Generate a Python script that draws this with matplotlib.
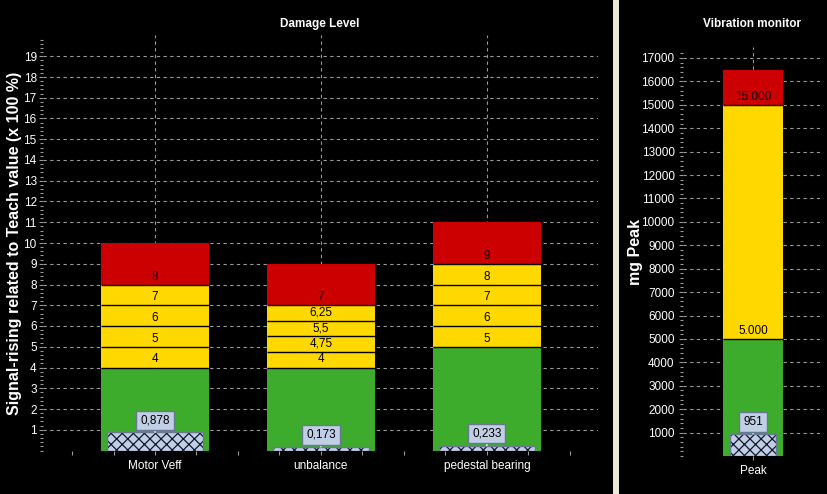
import numpy as np
import matplotlib
matplotlib.use('Agg')
import matplotlib.pyplot as plt
from matplotlib.patches import Rectangle

# data
categories = ['Motor Veff', 'unbalance', 'pedestal bearing']
warn_levels = [[4, 5, 6, 7, 8],
               [4, 4.75, 5.5, 6.25, 7],
               [5, 6, 7, 8, 9]]
bar_tops = [10, 9, 11]
actual = [0.878, 0.173, 0.233]

peak_name = 'Peak'
peak_levels = [5000, 15000]
peak_top = 16500
peak_value = 951

RED = '#CC0000'
YELLOW = '#FFD800'
GREEN = '#3DAB2B'
BOXFACE = '#C0CEE6'
BOXEDGE = '#687890'
GRID = '#9A9A9A'

def fmt_de(v, thousands=False):
    if thousands:
        return '{:,.0f}'.format(v).replace(',', '.')
    s = ('%g' % v)
    return s.replace('.', ',')

def style_axes(ax):
    ax.set_facecolor('black')
    for sp in ax.spines.values():
        sp.set_visible(False)
    ax.tick_params(which='both', colors=GRID, labelcolor='white', labelsize=8.5, length=3, width=0.8)
    ax.tick_params(axis='y', which='both', pad=1.5)
    ax.tick_params(axis='y', which='minor', length=2)
    ax.grid(True, which='major', color=GRID, linestyle=(0, (3, 3)), linewidth=0.8)
    ax.set_axisbelow(True)

def stacked_bar(ax, x, levels, top, width, value, labels, hatch_w, fs=8.5):
    bottoms = [0] + list(levels)
    tops = list(levels) + [top]
    cols = [GREEN] + [YELLOW] * (len(levels) - 1) + [RED]
    for b, t, c in zip(bottoms, tops, cols):
        ax.bar(x, t - b, bottom=b, width=width, color=c, linewidth=0, zorder=2)
    ax.hlines(levels, x - width / 2, x + width / 2, color='black', linewidth=1, zorder=3)
    for lv, lab in zip(levels, labels):
        ax.annotate(lab, (x, lv), xytext=(0, 2), textcoords='offset pixels',
                    ha='center', va='bottom', fontsize=fs, color='black', zorder=4)
    # actual value
    ax.bar(x, value, width=hatch_w, color=BOXFACE, edgecolor='#10182A', hatch='xxx',
           linewidth=0, zorder=4)
    ax.bar(x, value, width=hatch_w, fill=False, edgecolor=BOXEDGE, linewidth=1, zorder=5)

def value_box(ax, x, value, text):
    ax.annotate(text, (x, value), xytext=(0, 12), textcoords='offset pixels',
                ha='center', va='center', fontsize=8.5, color='black', zorder=6,
                bbox=dict(boxstyle='square,pad=0.32', facecolor=BOXFACE, edgecolor=BOXEDGE, linewidth=1),
                arrowprops=dict(arrowstyle='-', color='white', linewidth=1, shrinkA=0, shrinkB=0))

plt.rcParams['font.family'] = ['Liberation Sans', 'DejaVu Sans']
plt.rcParams['hatch.linewidth'] = 0.9
fig = plt.figure(figsize=(8.28, 4.94), dpi=100, facecolor='black')

# ---- left panel
ax = fig.add_axes([43 / 828, 43.5 / 494, 555 / 828, 415 / 494])
style_axes(ax)
xs = np.arange(len(categories))
for i in range(len(categories)):
    labs = [fmt_de(v) for v in warn_levels[i]]
    stacked_bar(ax, xs[i], warn_levels[i], bar_tops[i], 0.65, actual[i], labs, 0.58)
    value_box(ax, xs[i], actual[i], fmt_de(actual[i]))
ax.set_xlim(-0.675, 2.67)
ax.set_ylim(0, 20)
ax.set_yticks(np.arange(1, 20))
ax.set_yticks(np.arange(0, 19.85, 0.2), minor=True)
ax.set_xticks(xs)
ax.set_xticklabels(categories)
ax.set_xticks(np.arange(-0.5, 2.51, 0.25), minor=True)
ax.grid(False, axis='x', which='minor')

# ---- right panel
ax2 = fig.add_axes([683 / 828, 38 / 494, 137 / 828, 408.6 / 494])
style_axes(ax2)
stacked_bar(ax2, 0, peak_levels, peak_top, 0.65, peak_value,
            [fmt_de(v, True) for v in peak_levels], 0.49)
value_box(ax2, 0, peak_value, str(peak_value))
ax2.set_xlim(-0.758, 0.726)
ax2.set_ylim(0, 17450)
ax2.set_yticks(np.arange(1000, 17001, 1000))
ax2.set_yticks(np.arange(0, 17400, 200), minor=True)
ax2.set_xticks([0])
ax2.set_xticklabels([peak_name])
ax2.tick_params(axis='y', pad=3)

# separator strip
fig.patches.append(Rectangle((613 / 828, 0), 6.5 / 828, 1, transform=fig.transFigure,
                             facecolor='#ECE9D8', edgecolor='none'))

fig.text(320 / 828, 1 - 24 / 494, 'Damage Level', color='white', fontsize=8.5,
         fontweight='bold', ha='center', va='center')
fig.text(752 / 828, 1 - 24 / 494, 'Vibration monitor', color='white', fontsize=8.5,
         fontweight='bold', ha='center', va='center')
fig.text(15 / 828, 1 - 243 / 494, 'Signal-rising related to Teach value (x 100 %)',
         color='white', fontsize=11.5, fontweight='bold',
         rotation=90, ha='center', va='center')
fig.text(636 / 828, 1 - 252 / 494, 'mg Peak', color='white', fontsize=11.5,
         fontweight='bold', rotation=90, ha='center', va='center')

fig.savefig('out.png', dpi=100, facecolor='black')
